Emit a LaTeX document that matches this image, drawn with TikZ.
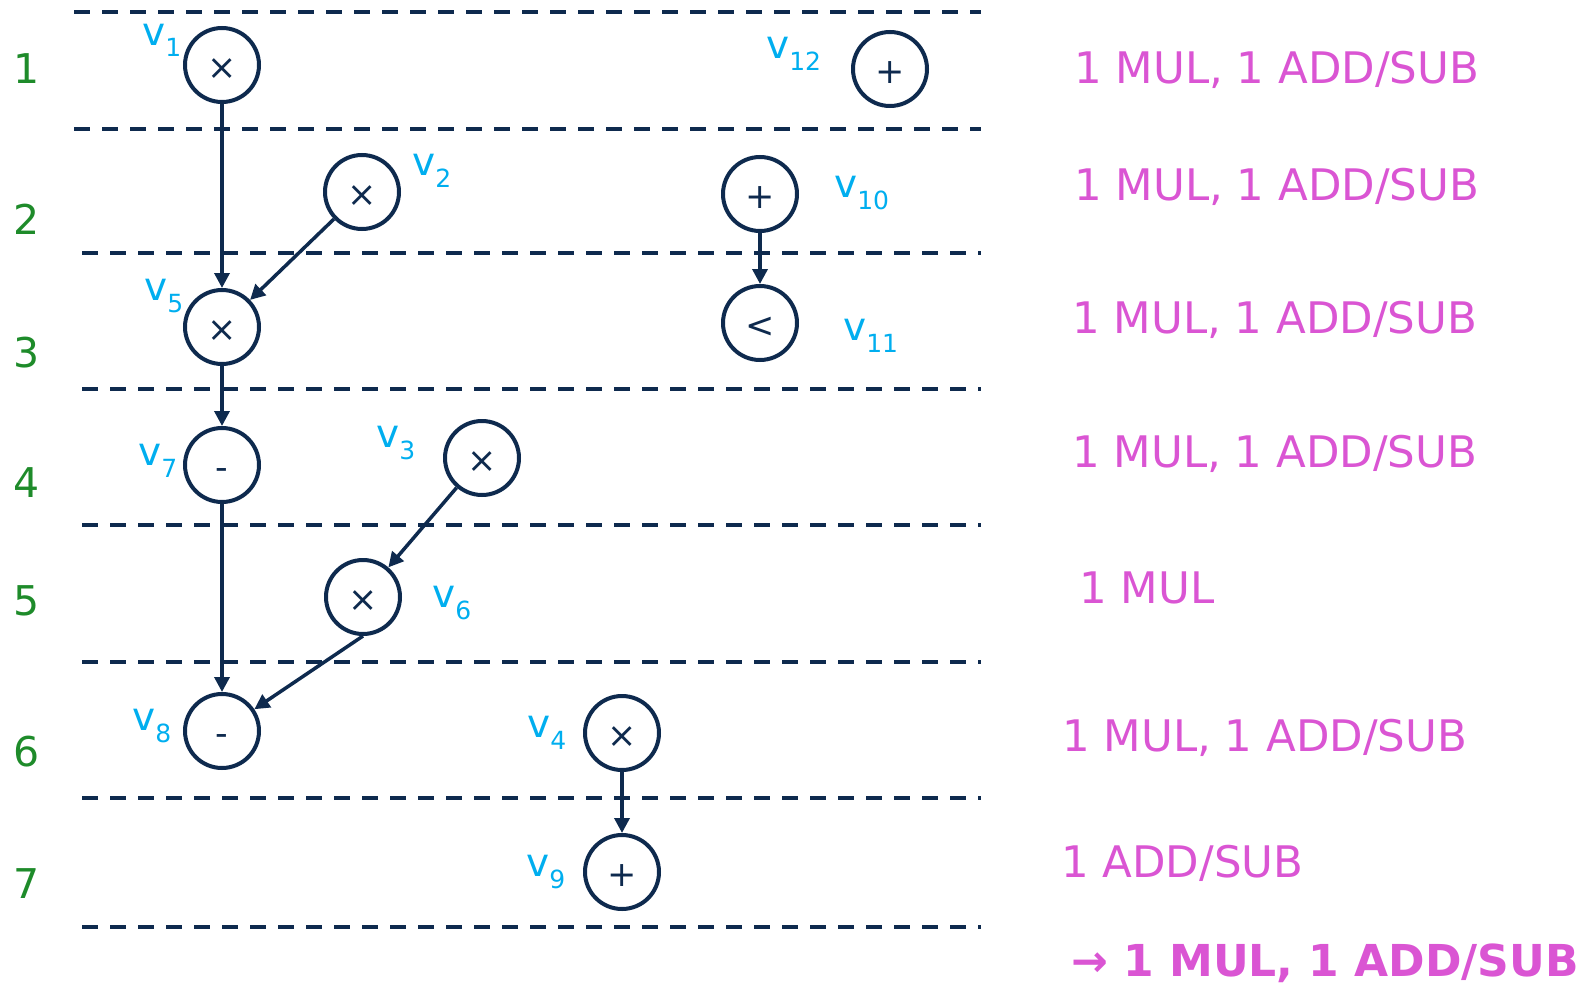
\documentclass[tikz,border=0pt]{standalone}
\usepackage{fontspec}
\setmainfont{DejaVu Sans}
\usepackage{xcolor}
\usetikzlibrary{arrows.meta}

\definecolor{navy}{HTML}{0E2A4E}
\definecolor{lblblue}{HTML}{00AEEF}
\definecolor{stagegreen}{HTML}{1E8B2A}
\definecolor{resmag}{HTML}{DA55D3}

\newcommand{\vname}[1]{v\raisebox{-12pt}{\fontsize{25}{25}\selectfont #1}}
\newcommand{\opsym}[1]{\raisebox{-14pt}[0pt][0pt]{#1}}

\begin{document}
\begin{tikzpicture}[x=1pt, y=-1pt,
  opnode/.style={circle, draw=navy, line width=4pt, minimum size=74pt, inner sep=0pt,
    text=navy, font=\fontsize{35}{35}\selectfont},
  vlabel/.style={anchor=base west, inner sep=0pt, text=lblblue, font=\fontsize{39}{39}\selectfont},
  stagenum/.style={anchor=base, inner sep=0pt, text=stagegreen, font=\fontsize{41}{41}\selectfont},
  restext/.style={anchor=base west, inner sep=0pt, text=resmag, font=\fontsize{43.5}{43.5}\selectfont},
  stageline/.style={draw=navy, line width=4pt, dash pattern=on 16pt off 12pt},
  arrow/.style={-{Triangle[length=15pt,width=15pt]}, draw=navy, line width=3.5pt}
]
  \useasboundingbox (0,0) rectangle (1596,985);

  % stage boundaries
  \foreach \ys/\xs in {12.3/74, 128.7/74, 253/82, 389/82, 525/82, 662/82, 798/82, 927/82}
    \draw[stageline] (\xs,\ys) -- (981,\ys);

  % stage numbers
  \foreach \n/\yb in {1/83, 2/234, 3/367, 4/497, 5/615, 6/766, 7/898}
    \node[stagenum] (s\n) at (26.5,\yb) {\n};

  % operations
  \node[opnode] (v1)  at (222,65)  {\opsym{×}};
  \node[opnode] (v2)  at (362,192) {\opsym{×}};
  \node[opnode] (v3)  at (482,458) {\opsym{×}};
  \node[opnode] (v4)  at (622,733) {\opsym{×}};
  \node[opnode] (v5)  at (222,327) {\opsym{×}};
  \node[opnode] (v6)  at (363,597) {\opsym{×}};
  \node[opnode] (v7)  at (222,465) {\opsym{-}};
  \node[opnode] (v8)  at (222,731) {\opsym{-}};
  \node[opnode] (v9)  at (622,872) {\opsym{+}};
  \node[opnode] (v10) at (760,194) {\opsym{+}};
  \node[opnode] (v11) at (760,323) {\opsym{<}};
  \node[opnode] (v12) at (890,69)  {\opsym{+}};

  % names
  \node[vlabel] (l1)  at (142,45)  {\vname{1}};
  \node[vlabel] (l2)  at (412,175) {\vname{2}};
  \node[vlabel] (l3)  at (376,447) {\vname{3}};
  \node[vlabel] (l4)  at (527,737) {\vname{4}};
  \node[vlabel] (l5)  at (144,300) {\vname{5}};
  \node[vlabel] (l6)  at (432,607) {\vname{6}};
  \node[vlabel] (l7)  at (138,465) {\vname{7}};
  \node[vlabel] (l8)  at (132,730) {\vname{8}};
  \node[vlabel] (l9)  at (526,876) {\vname{9}};
  \node[vlabel] (l10) at (834,197) {\vname{10}};
  \node[vlabel] (l11) at (843,340) {\vname{11}};
  \node[vlabel] (l12) at (766,58)  {\vname{12}};

  % resources per stage
  \node[restext] (r1) at (1074,83)  {1 MUL, 1 ADD/SUB};
  \node[restext] (r2) at (1074,200) {1 MUL, 1 ADD/SUB};
  \node[restext] (r3) at (1072,333) {1 MUL, 1 ADD/SUB};
  \node[restext] (r4) at (1072,467) {1 MUL, 1 ADD/SUB};
  \node[restext] (r5) at (1079,603) {1 MUL};
  \node[restext] (r6) at (1062,751) {1 MUL, 1 ADD/SUB};
  \node[restext] (r7) at (1061,877) {1 ADD/SUB};
  \node[restext, font=\fontsize{44}{44}\selectfont\bfseries] (rtot) at (1071,976) {→ 1 MUL, 1 ADD/SUB};

  % dependencies
  \draw[arrow] (v1) -- (v5);
  \draw[arrow] (v2) -- (v5);
  \draw[arrow] (v5) -- (v7);
  \draw[arrow] (v7) -- (v8);
  \draw[arrow] (v3) -- (v6);
  \draw[arrow] (v6.south) -- (v8);
  \draw[arrow] (v10) -- (v11);
  \draw[arrow] (v4) -- (v9);
\end{tikzpicture}
\end{document}
